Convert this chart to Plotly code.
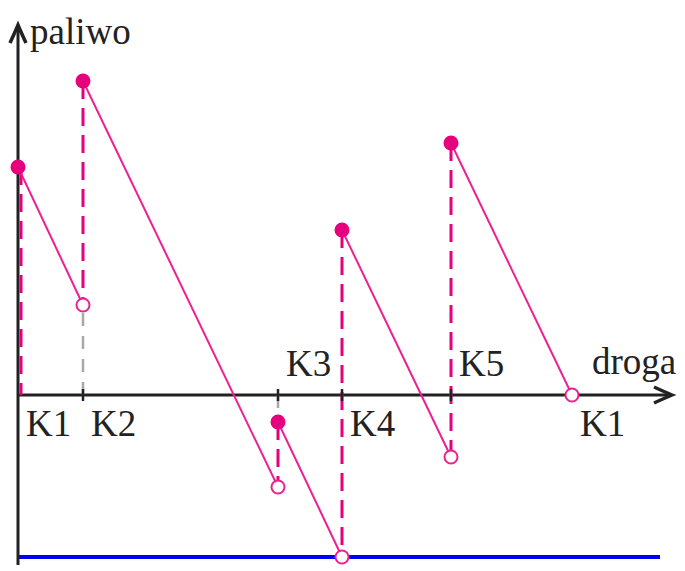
import plotly.graph_objects as go

# Fuel level along the route K1 -> K2 -> K3 -> K4 -> K5 -> K1
stations = ["K1", "K2", "K3", "K4", "K5", "K1"]
station_x = [0.0, 6.5, 26.0, 32.4, 43.3, 55.4]
fuel_before = [0.0, 9.0, -9.2, -16.2, -6.2, 0.0]   # level on arrival
fuel_after = [22.8, 31.4, -2.7, 16.5, 25.2]        # level after refuelling
label_side = ["below", "below", "above", "below", "above", "below"]

MAGENTA = "#e6007e"
PINK = "#ee2090"
AXIS = "#222222"
GRAY = "#a8a8a8"
BLUE = "#0000ee"
FONT = "Liberation Serif"

fig = go.Figure()

def seg(x0, y0, x1, y1, color, width, dash="solid"):
    fig.add_trace(go.Scatter(x=[x0, x1], y=[y0, y1], mode="lines",
                             line=dict(color=color, width=width, dash=dash),
                             hoverinfo="skip", showlegend=False))

# lowest level reached on the route
low = min(fuel_before)
seg(0, low, 64.2, low, BLUE, 4)

# axes
seg(0, -17.0, 0, 36.6, AXIS, 3)
seg(0, 0, 65.0, 0, AXIS, 3)

# refuelling jumps
for i in range(5):
    x = station_x[i] + (0.3 if i == 0 else 0)
    b, a = fuel_before[i], fuel_after[i]
    # gap between the axis and the jump
    if b > 0 and a > 0:
        seg(station_x[i], 0, station_x[i], min(a, b), GRAY, 2.5, "13px,10px")
    elif b < 0 and a < 0:
        seg(station_x[i], 0, station_x[i], max(a, b), GRAY, 2.5, "13px,10px")
    seg(x, a, x, b, MAGENTA, 3, "18px,9px")

# station ticks
for x in station_x[1:5]:
    seg(x, -0.6, x, 0.6, AXIS, 2.5)

# consumption between stations
for i in range(5):
    seg(station_x[i], fuel_after[i], station_x[i + 1], fuel_before[i + 1], PINK, 2)

# arrival (open) and departure (filled) points
fig.add_trace(go.Scatter(x=station_x[1:], y=fuel_before[1:], mode="markers",
                         marker=dict(size=13, color="white",
                                     line=dict(color=PINK, width=2)),
                         hoverinfo="skip", showlegend=False))
fig.add_trace(go.Scatter(x=station_x[:5], y=fuel_after, mode="markers",
                         marker=dict(size=15, color=MAGENTA, line=dict(width=0)),
                         hoverinfo="skip", showlegend=False))

# arrowheads
tx, ty = 65.4, 0.0
fig.add_shape(type="path",
              path=f"M {tx-1.8},{ty+0.8} Q {tx-0.6},{ty+0.25} {tx},{ty} "
                   f"Q {tx-0.6},{ty-0.25} {tx-1.8},{ty-0.8}",
              line=dict(color=AXIS, width=3.5), xref="x", yref="y")
tx, ty = 0.0, 37.0
fig.add_shape(type="path",
              path=f"M {tx-0.8},{ty-1.8} Q {tx-0.25},{ty-0.6} {tx},{ty} "
                   f"Q {tx+0.25},{ty-0.6} {tx+0.8},{ty-1.8}",
              line=dict(color=AXIS, width=3.5), xref="x", yref="y")

# labels
for name, x, side in zip(stations, station_x, label_side):
    fig.add_annotation(x=x, y=-2.8 if side == "below" else 3.2, text=name,
                       showarrow=False, xanchor="left", yanchor="middle",
                       xshift=6, font=dict(family=FONT, size=37, color=AXIS))
fig.add_annotation(x=57.2, y=3.4, text="droga", showarrow=False,
                   xanchor="left", yanchor="middle",
                   font=dict(family=FONT, size=37, color=AXIS))
fig.add_annotation(x=1.0, y=36.4, text="paliwo", showarrow=False,
                   xanchor="left", yanchor="middle",
                   font=dict(family=FONT, size=37, color=AXIS))

fig.update_layout(width=685, height=571, margin=dict(l=0, r=0, t=0, b=0),
                  paper_bgcolor="white", plot_bgcolor="white",
                  xaxis=dict(range=[-1.8, 66.7], visible=False, fixedrange=True),
                  yaxis=dict(range=[-17.6, 39.5], visible=False, fixedrange=True))

fig.write_html("out.html")
